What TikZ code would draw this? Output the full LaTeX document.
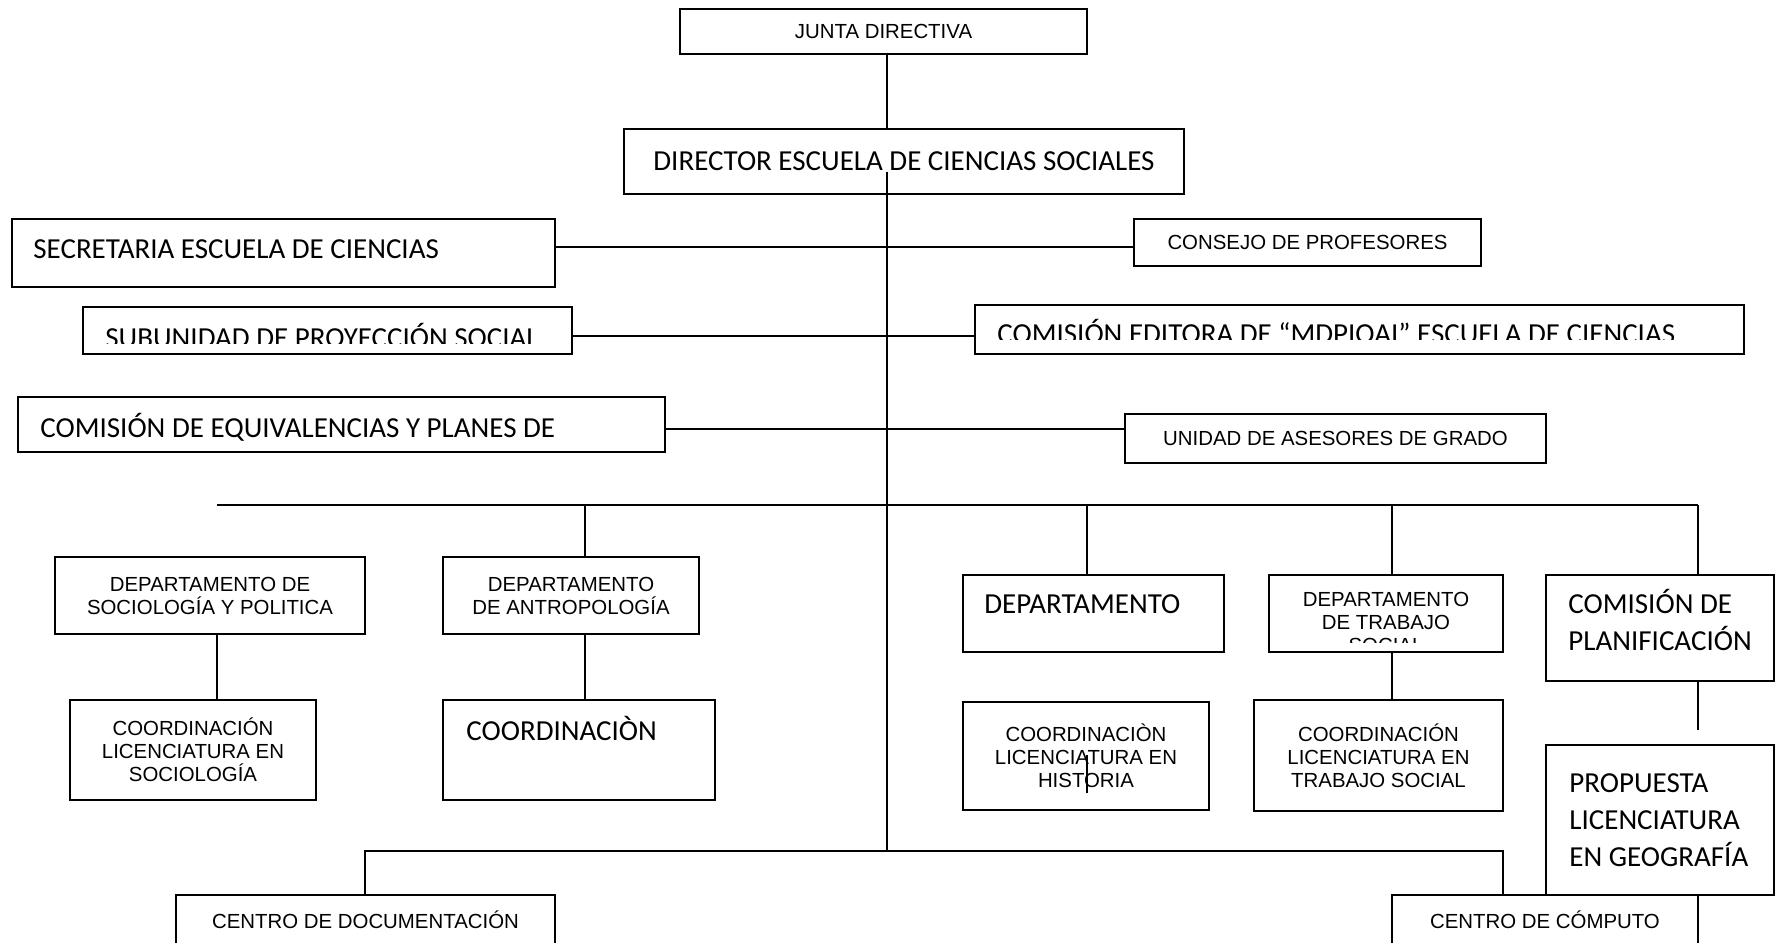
\documentclass[tikz,border=0pt]{standalone}
\usepackage{fontspec}
\setmainfont{Liberation Sans}
\newfontfamily\calibri{Carlito}
\usepackage{tikz}

\begin{document}
\begin{tikzpicture}[x=.5pt,y=-.5pt]
\tikzstyle{every node}=[inner sep=0pt, font=\fontsize{10.2}{11.5}\selectfont]
\tikzstyle{box}=[draw, rectangle, line width=1.2pt, align=center]
\tikzstyle{big}=[font=\calibri\fontsize{14.5}{18.3}\selectfont, align=left]
\clip (0,0) rectangle (1785,943);
\draw (883.5,31.5) node (junta) [box, minimum width=203.5pt, minimum height=22.5pt] {JUNTA DIRECTIVA};
\draw (904,161.5) node (director) [box, big, minimum width=280pt, minimum height=32.5pt] {DIRECTOR ESCUELA DE CIENCIAS SOCIALES};
\draw (283.5,253) node (secretaria) [box, minimum width=271.5pt, minimum height=34pt] {};
\draw (1307.5,242.5) node (consejo) [box, minimum width=173.5pt, minimum height=23.5pt] {CONSEJO DE PROFESORES};
\draw (327.5,330.5) node (subunidad) [box, minimum width=244.5pt, minimum height=23.5pt] {};
\draw (1359.5,329.5) node (editora) [box, minimum width=384.5pt, minimum height=24.5pt] {};
\draw (341.5,424.5) node (equiv) [box, minimum width=323.5pt, minimum height=27.5pt] {};
\draw (1335.5,438.5) node (unidad) [box, minimum width=210.5pt, minimum height=24.5pt] {UNIDAD DE ASESORES DE GRADO};
\draw (210,595.5) node (dsoc) [box, minimum width=155pt, minimum height=38.5pt] {DEPARTAMENTO DE\\SOCIOLOGÍA Y POLITICA};
\draw (571,595.5) node (dant) [box, minimum width=128pt, minimum height=38.5pt] {DEPARTAMENTO\\DE ANTROPOLOGÍA};
\draw (1093.5,613.5) node (dhist) [box, minimum width=130.5pt, minimum height=38.5pt] {};
\draw (1386,613.5) node (dts) [box, minimum width=117pt, minimum height=38.5pt] {};
\draw (1660,628) node (planif) [box, minimum width=114pt, minimum height=53pt] {};
\draw (193,750) node (csoc) [box, minimum width=123pt, minimum height=50pt] {COORDINACIÓN\\LICENCIATURA EN\\SOCIOLOGÍA};
\draw (579,750) node (cant) [box, minimum width=136pt, minimum height=50pt] {};
\draw (1086,756) node (chist) [box, minimum width=123pt, minimum height=54pt] {COORDINACIÒN\\LICENCIATURA EN\\HISTORIA};
\draw (1378.5,755.5) node (cts) [box, minimum width=124.5pt, minimum height=55.5pt] {COORDINACIÓN\\LICENCIATURA EN\\TRABAJO SOCIAL};
\draw (1660,820) node (prop) [box, minimum width=114pt, minimum height=75pt] {};
\draw (365.5,920) node (cdoc) [box, minimum width=189.5pt, minimum height=25pt] {CENTRO DE DOCUMENTACIÓN};
\draw (1545,920) node (ccomp) [box, minimum width=153pt, minimum height=25pt] {CENTRO DE CÓMPUTO};
\draw (33,258) node (tsecretaria) [big, anchor=base west] {SECRETARIA ESCUELA DE CIENCIAS};
\draw (40,437) node (tequiv) [big, anchor=base west] {COMISIÓN DE EQUIVALENCIAS Y PLANES DE};
\draw (984,613) node (tdhist) [big, anchor=base west] {DEPARTAMENTO};
\draw (1568,650) node (tplanif) [big, anchor=base west] {COMISIÓN DE\\PLANIFICACIÓN};
\draw (466,740) node (tcant) [big, anchor=base west] {COORDINACIÒN};
\draw (1569,866) node (tprop) [big, anchor=base west] {PROPUESTA\\LICENCIATURA\\EN GEOGRAFÍA};
\begin{scope}
\clip (83,307) rectangle (572,343);
\draw (105,347) node (tsubunidad) [big, anchor=base west] {SUBUNIDAD DE PROYECCIÓN SOCIAL};
\end{scope}
\begin{scope}
\clip (975,305) rectangle (1744,339);
\draw (997,343) node (teditora) [big, anchor=base west] {COMISIÓN EDITORA DE “MDPIOAI” ESCUELA DE CIENCIAS};
\end{scope}
\begin{scope}
\clip (1269,575) rectangle (1503,642);
\draw (1386,652) node (tdts) [anchor=base, align=center] {DEPARTAMENTO\\DE TRABAJO\\SOCIAL};
\end{scope}
\coordinate (spine) at (887,172);
\coordinate (spineend) at (887,851);
\coordinate (r1) at (887,247);
\coordinate (r2) at (887,336);
\coordinate (r3) at (887,429);
\coordinate (busl) at (217,505);
\coordinate (d2) at (585,505);
\coordinate (d3) at (1087,505);
\coordinate (d4) at (1392,505);
\coordinate (busr) at (1698,505);
\coordinate (tail) at (1698,730);
\coordinate (s1) at (1087,755);
\coordinate (s2) at (1087,793);
\coordinate (b1) at (365,851);
\coordinate (b2) at (1503,851);
\tikzstyle{every path}=[line width=.75pt]
\draw (junta.south -| spine) -- (director.north -| spine);
\draw (spine) -- (spineend);
\draw (secretaria.east |- r1) -- (consejo.west |- r1);
\draw (subunidad.east |- r2) -- (editora.west |- r2);
\draw (equiv.east |- r3) -- (unidad.west |- r3);
\draw (busl) -- (busr);
\draw (d2) -- (d2 |- dant.north);
\draw (d3) -- (d3 |- dhist.north);
\draw (d4) -- (d4 |- dts.north);
\draw (busr) -- (busr |- planif.north);
\draw (busl |- dsoc.south) -- (busl |- csoc.north);
\draw (d2 |- dant.south) -- (d2 |- cant.north);
\draw (d4 |- dts.south) -- (d4 |- cts.north);
\draw (busr |- planif.south) -- (tail);
\draw (s1) -- (s2);
\draw (b1 |- cdoc.north) -- (b1) -- (b2) -- (b2 |- ccomp.north);
\end{tikzpicture}
\end{document}
